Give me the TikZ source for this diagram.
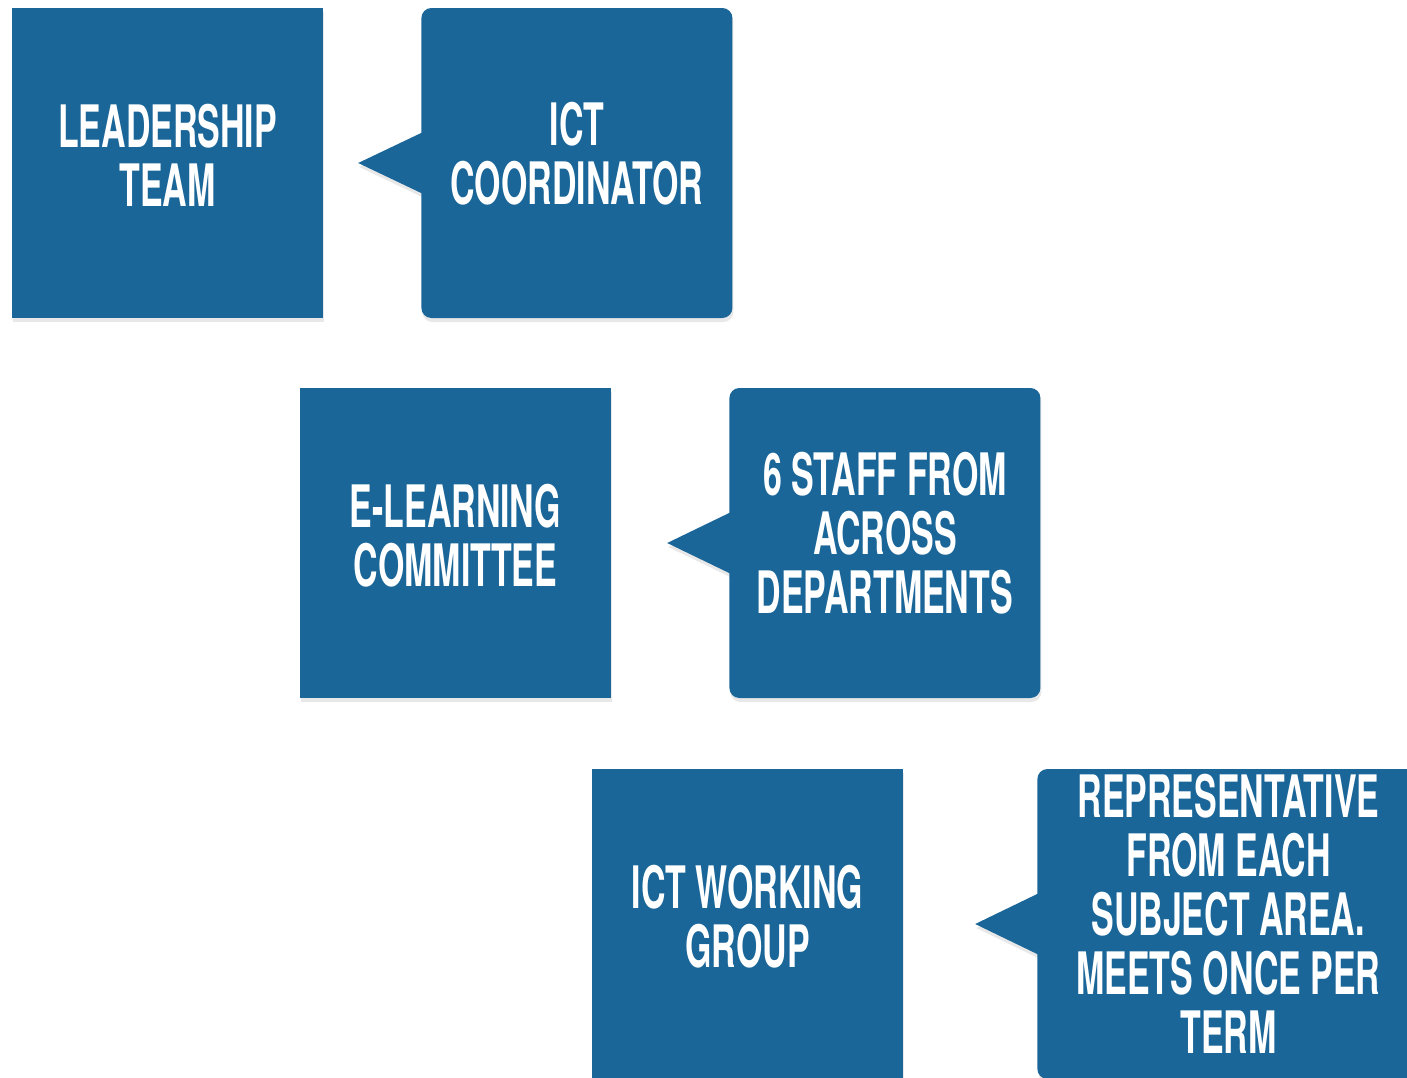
\documentclass[tikz,border=0pt]{standalone}
\usepackage{fontspec}
\setmainfont{TeX Gyre Heros}[FakeStretch=0.58]
\usetikzlibrary{positioning}
\usetikzlibrary{calc}
\usetikzlibrary{shadows}
\definecolor{boxblue}{RGB}{26,102,152}
\pgfdeclarelayer{back}
\pgfsetlayers{back,main}

\begin{document}
\begin{tikzpicture}[x=1pt,y=-1pt,node distance=98pt,
				font=\fontsize{58.5}{59}\selectfont\bfseries]
				\tikzstyle{group}=[rectangle,fill=boxblue,text=white,align=center,inner sep=0pt,
					minimum width=311pt,minimum height=310pt,text depth=16pt,
					drop shadow={opacity=0.18,shadow xshift=1pt,shadow yshift=-4pt}]
				\tikzstyle{member}=[group,rounded corners=10pt,text depth=20pt]
				\tikzstyle{pointer}=[fill=boxblue,
					drop shadow={opacity=0.18,shadow xshift=1pt,shadow yshift=-4pt}]
				
				\useasboundingbox (0,0) rectangle (1407,1077);
				\clip (0,0) rectangle (1407,1077);
				
				\node[group]  (lead)   at (167.5,163)  {LEADERSHIP\\TEAM};
				\node[member] (ictc)   [right=98pt of lead]  {ICT\\COORDINATOR};
				\node[group]  (elearn) at (455.5,543)  {E-LEARNING\\COMMITTEE};
				\node[member] (staff)  [right=118pt of elearn]  {6 STAFF FROM\\ACROSS\\DEPARTMENTS};
				\node[group]  (wgroup) at (747.5,924)  {ICT WORKING\\GROUP};
				\node[member,minimum width=382pt] (rep) [right=134pt of wgroup]
					{REPRESENTATIVE\\FROM EACH\\SUBJECT AREA.\\MEETS ONCE PER\\TERM};
				
				% pointers of the callouts
				\coordinate (ictc tip)  at ($(ictc.west)+(-63,0)$);
				\coordinate (staff tip) at ($(staff.west)+(-62,0)$);
				\coordinate (rep tip)   at ($(rep.west)+(-62,0)$);
				\begin{pgfonlayer}{back}
					\foreach \who in {ictc,staff,rep}
						\path[pointer] ($(\who.west)+(2,-31)$) -- (\who\space tip)
							-- ($(\who.west)+(2,31)$) -- cycle;
				\end{pgfonlayer}
\end{tikzpicture}
\end{document}
